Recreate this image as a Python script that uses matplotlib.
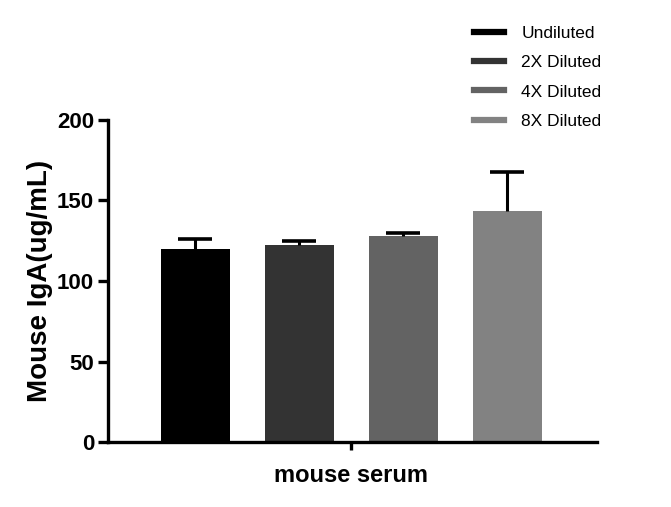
import matplotlib
matplotlib.use("Agg")
import matplotlib.pyplot as plt
from matplotlib.lines import Line2D

groups = ["Undiluted", "2X Diluted", "4X Diluted", "8X Diluted"]
means = [120, 122.5, 128, 143.5]
errs = [6, 2.5, 2, 24.5]
colors = ["#000000", "#333333", "#636363", "#828282"]
category = "mouse serum"
ylabel = "Mouse IgA(ug/mL)"
yticks = [0, 50, 100, 150, 200]

FONT = "Liberation Sans"

fig = plt.figure(figsize=(6.71, 5.07), dpi=100)
ax = fig.add_axes([108/671, 1-442/507, (597-108)/671, (442-120)/507])

xs = list(range(len(groups)))
ax.bar(xs, means, width=0.66, color=colors, zorder=2)
for x, m, e in zip(xs, means, errs):
    _, caps, _ = ax.errorbar([x], [m], yerr=[[0], [e]], fmt="none", ecolor="black",
                             elinewidth=2.2, capsize=12, capthick=2.6, zorder=3)
    caps[0].set_visible(False)

ax.set_xlim(-0.841, 3.861)
ax.set_ylim(0, 200)
ax.set_yticks(yticks)
ax.set_yticklabels([str(t) for t in yticks], fontsize=16, fontweight="bold",
                   family=FONT)
ax.set_xticks([1.5])
ax.set_xticklabels([category], fontsize=17, fontweight="bold", family=FONT)
ax.set_ylabel(ylabel, fontsize=20, fontweight="bold", family=FONT, labelpad=3)

for s in ["top", "right"]:
    ax.spines[s].set_visible(False)
for s in ["left", "bottom"]:
    ax.spines[s].set_linewidth(2.4)
ax.tick_params(axis="y", width=2.4, length=7, pad=3)
ax.tick_params(axis="x", width=2.4, length=6, pad=10)

handles = [Line2D([0], [0], color=c, lw=4.5) for c in colors]
fig.legend(handles, groups, loc="upper left", bbox_to_anchor=(458/671, 1-10/507),
           frameon=False, prop={"family": FONT, "size": 12.5},
           handlelength=1.75, labelspacing=0.82, handletextpad=1.0)

fig.savefig("out.png", dpi=100)
